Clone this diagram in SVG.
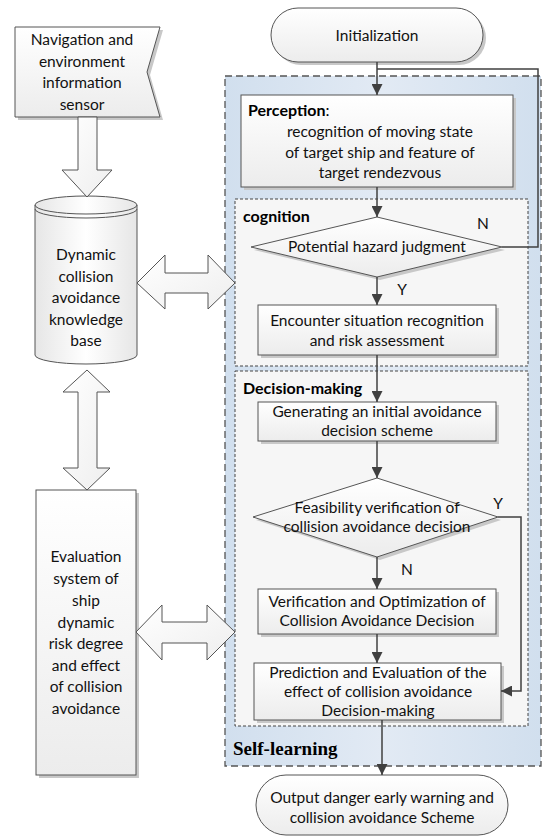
<svg xmlns="http://www.w3.org/2000/svg" width="542" height="836" viewBox="0 0 542 836">
<defs>
<linearGradient id="gBox" x1="0" y1="0" x2="0" y2="1"><stop offset="0" stop-color="#ffffff"/><stop offset="1" stop-color="#ececec"/></linearGradient>
<linearGradient id="gCyl" x1="0" y1="0" x2="1" y2="0"><stop offset="0" stop-color="#e6e6e6"/><stop offset="0.5" stop-color="#ffffff"/><stop offset="1" stop-color="#e6e6e6"/></linearGradient>
<linearGradient id="gArr" x1="0" y1="0" x2="1" y2="1"><stop offset="0" stop-color="#ffffff"/><stop offset="1" stop-color="#eeeeee"/></linearGradient>
<linearGradient id="gBlue" x1="0" y1="0" x2="1" y2="0"><stop offset="0" stop-color="#d1dfee"/><stop offset="0.5" stop-color="#e2eaf4"/><stop offset="1" stop-color="#d1dfee"/></linearGradient>
<marker id="ah2" viewBox="0 0 10 10" refX="10" refY="5" markerWidth="11" markerHeight="11" orient="auto" markerUnits="userSpaceOnUse">
<path d="M0,0 L10,5 L0,10 z" fill="#404040"/>
</marker>
</defs>
<style>
.t{font-family:Lato,"Noto Sans",sans-serif;font-size:15.5px;fill:#111;text-anchor:middle}
.b{font-family:Lato,"Noto Sans",sans-serif;font-size:16px;font-weight:bold;fill:#000}
.s{font-family:"Liberation Serif","Times New Roman",serif;font-size:19px;font-weight:bold;fill:#000}
.box{fill:url(#gBox);stroke:#555;stroke-width:1}
.sh{fill:#c8c8c8}
.arr{fill:url(#gArr);stroke:#555;stroke-width:1}
.c{fill:none;stroke:#404040;stroke-width:1.5}
.dash{fill:#f6f6f6;stroke:#444;stroke-width:1;stroke-dasharray:3 2}
</style>
<g id="self-learning">
<rect x="225" y="76" width="316" height="690" fill="url(#gBlue)" stroke="#555" stroke-width="1.3" stroke-dasharray="7 4"/>
<text x="233" y="755" class="s">Self-learning</text>
</g>
<g id="cognition">
<rect x="235" y="199" width="293" height="167" class="dash"/>
<text x="243" y="222" class="b">cognition</text>
</g>
<g id="decision-making">
<rect x="235" y="371" width="293" height="355" class="dash" stroke="#777"/>
<text x="243" y="394" class="b">Decision-making</text>
</g>
<g id="sensor">
<path d="M18,30 L163,30 L150,75 L163,120 L18,120 z" class="sh"/>
<path d="M15,27 L160,27 L147,72 L160,117 L15,117 z" class="box"/>
<text class="t" x="82" y="45">Navigation and</text>
<text class="t" x="82" y="67">environment</text>
<text class="t" x="82" y="88">information</text>
<text class="t" x="82" y="110">sensor</text>
</g>
<g id="knowledge-base">
<path d="M35,205 L35,355 A51,9 0 0 0 137,355 L137,205 A51,9 0 0 0 35,205 z" fill="url(#gCyl)" stroke="#555"/>
<path d="M35,205 A51,9 0 0 0 137,205" fill="none" stroke="#555"/>
<path d="M35,209 A51,9 0 0 0 137,209" fill="none" stroke="#555"/>
<text class="t" x="86" y="260">Dynamic</text>
<text class="t" x="86" y="282">collision</text>
<text class="t" x="86" y="303">avoidance</text>
<text class="t" x="86" y="325">knowledge</text>
<text class="t" x="86" y="346">base</text>
</g>
<g id="evaluation">
<rect x="39" y="493" width="100" height="285" class="sh"/>
<rect x="36" y="490" width="100" height="285" class="box"/>
<text class="t" x="86" y="562">Evaluation</text>
<text class="t" x="86" y="584">system of</text>
<text class="t" x="86" y="606">ship</text>
<text class="t" x="86" y="628">dynamic</text>
<text class="t" x="86" y="649">risk degree</text>
<text class="t" x="86" y="671">and effect</text>
<text class="t" x="86" y="692">of collision</text>
<text class="t" x="86" y="714">avoidance</text>
</g>
<g id="init">
<rect x="274" y="11" width="212" height="54" rx="27" class="sh"/>
<rect x="271" y="8" width="212" height="54" rx="27" class="box"/>
<text class="t" x="377" y="41">Initialization</text>
</g>
<g id="perception">
<rect x="244" y="98" width="272" height="92" class="sh"/>
<rect x="241" y="95" width="272" height="92" class="box"/>
<text x="248" y="116" class="b">Perception<tspan font-weight="normal">:</tspan></text>
<text class="t" x="380" y="137">recognition of moving state</text>
<text class="t" x="380" y="158">of target ship and feature of</text>
<text class="t" x="380" y="178">target rendezvous</text>
</g>
<g id="hazard">
<path d="M254,250 L380,220 L505,250 L380,280 z" class="sh"/>
<path d="M251,247 L377,217 L502,247 L377,277 z" class="box"/>
<text class="t" x="377" y="252">Potential hazard judgment</text>
</g>
<g id="encounter">
<rect x="261" y="308" width="238" height="50" class="sh"/>
<rect x="258" y="305" width="238" height="50" class="box"/>
<text class="t" x="377" y="326">Encounter situation recognition</text>
<text class="t" x="377" y="346">and risk assessment</text>
</g>
<g id="generating">
<rect x="261" y="405" width="238" height="39" class="sh"/>
<rect x="258" y="402" width="238" height="39" class="box"/>
<text class="t" x="377" y="417">Generating an initial avoidance</text>
<text class="t" x="377" y="436">decision scheme</text>
</g>
<g id="feasibility">
<path d="M256,520 L380,481 L501,520 L380,560 z" class="sh"/>
<path d="M253,517 L377,478 L498,517 L377,557 z" class="box"/>
<text class="t" x="377" y="513">Feasibility verification of</text>
<text class="t" x="377" y="532">collision avoidance decision</text>
</g>
<g id="verification">
<rect x="261" y="592" width="238" height="45" class="sh"/>
<rect x="258" y="589" width="238" height="45" class="box"/>
<text class="t" x="377" y="607">Verification and Optimization of</text>
<text class="t" x="377" y="626">Collision Avoidance Decision</text>
</g>
<g id="prediction">
<rect x="257" y="666" width="247" height="57" class="sh"/>
<rect x="254" y="663" width="247" height="57" class="box"/>
<text class="t" x="378" y="678">Prediction and Evaluation of the</text>
<text class="t" x="378" y="697">effect of collision avoidance</text>
<text class="t" x="378" y="716">Decision-making</text>
</g>
<g id="output">
<rect x="256" y="775" width="252" height="60" rx="30" class="box"/>
<text class="t" x="382" y="803">Output danger early warning and</text>
<text class="t" x="382" y="823">collision avoidance Scheme</text>
</g>
<g id="connectors">
<polygon class="arr" points="78,117 97,117 97,170 112,170 87,197 62,170 78,170"/>
<polygon class="arr" points="87,370 110,392 97,392 97,468 110,468 87,490 63,468 78,468 78,392 63,392"/>
<polygon class="arr" points="137,283 165,255 165,273 208,273 208,255 235,283 208,309 208,293 165,293 165,309"/>
<polygon class="arr" points="136,632 162,605 162,622 207,622 207,605 235,632 207,660 207,643 162,643 162,660"/>
<path class="c" d="M377,62 L377,95" marker-end="url(#ah2)"/>
<path class="c" d="M502,247 L538,247 L538,69 L377,69"/>
<path class="c" d="M377,187 L377,217" marker-end="url(#ah2)"/>
<path class="c" d="M377,277 L377,305" marker-end="url(#ah2)"/>
<path class="c" d="M377,355 L377,402" marker-end="url(#ah2)"/>
<path class="c" d="M377,441 L377,478" marker-end="url(#ah2)"/>
<path class="c" d="M377,557 L377,589" marker-end="url(#ah2)"/>
<path class="c" d="M377,634 L377,663" marker-end="url(#ah2)"/>
<path class="c" d="M498,517 L521,517 L521,691 L501,691" marker-end="url(#ah2)"/>
<path class="c" d="M382,720 L382,775" marker-end="url(#ah2)"/>
<text class="t" x="483" y="229">N</text>
<text class="t" x="402" y="295">Y</text>
<text class="t" x="498" y="509">Y</text>
<text class="t" x="407" y="575">N</text>
</g>
</svg>
